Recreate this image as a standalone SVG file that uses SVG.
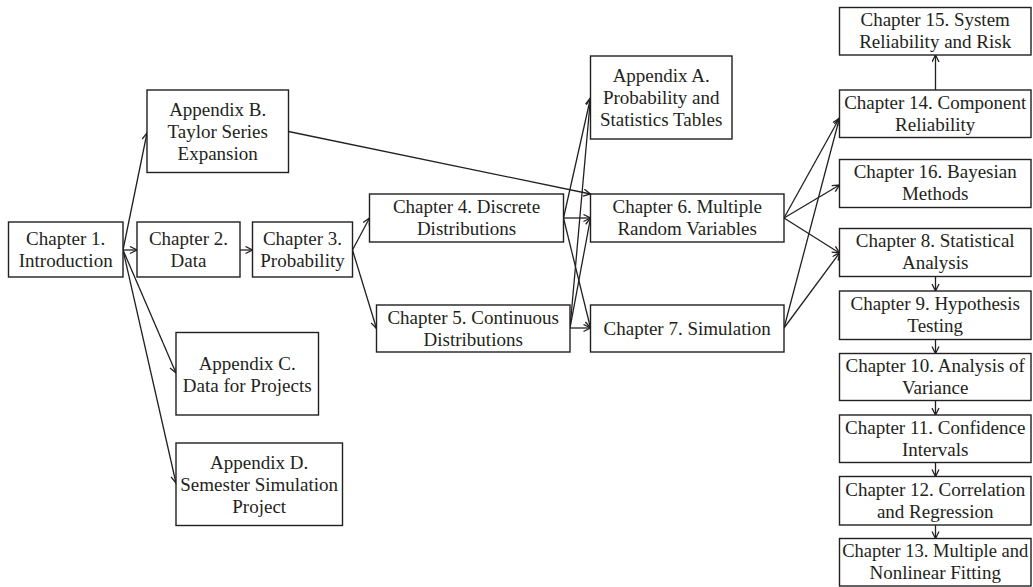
<svg xmlns="http://www.w3.org/2000/svg" width="1033" height="587" viewBox="0 0 1033 587">
<style>
.box{fill:#fff;stroke:#231f20;stroke-width:1.4}
.t{font-family:"Liberation Serif","Times New Roman",serif;font-size:19px;fill:#231f20;text-anchor:middle}
.c{fill:none;stroke:#231f20;stroke-width:1.3;marker-end:url(#ah)}
</style>
<defs>
<marker id="ah" markerUnits="userSpaceOnUse" markerWidth="12" markerHeight="12" refX="8" refY="4" orient="auto">
<path d="M1,0.5 L8,4 L1,7.5" fill="none" stroke="#231f20" stroke-width="1.3"/>
</marker>
</defs>
<rect width="1033" height="587" fill="#fff"/>
<g id="connectors">
<line class="c" x1="123" y1="250" x2="147" y2="133"/>
<line class="c" x1="123" y1="250" x2="137" y2="250"/>
<line class="c" x1="123" y1="250" x2="176" y2="373"/>
<line class="c" x1="123" y1="250" x2="176" y2="483"/>
<line class="c" x1="240" y1="250" x2="252.5" y2="250"/>
<line class="c" x1="352.5" y1="250" x2="369.5" y2="218"/>
<line class="c" x1="352.5" y1="250" x2="376.5" y2="328.5"/>
<line class="c" x1="288.5" y1="131.5" x2="590.5" y2="194"/>
<line class="c" x1="563.5" y1="218" x2="590.5" y2="98"/>
<line class="c" x1="563.5" y1="218" x2="590.5" y2="218"/>
<line class="c" x1="563.5" y1="218" x2="590.5" y2="328"/>
<line class="c" x1="570" y1="328" x2="590.5" y2="98"/>
<line class="c" x1="570" y1="328" x2="590.5" y2="218"/>
<line class="c" x1="570" y1="328" x2="590.5" y2="328"/>
<line class="c" x1="784" y1="218" x2="839.5" y2="118"/>
<line class="c" x1="784" y1="218" x2="839.5" y2="185"/>
<line class="c" x1="784" y1="218" x2="839.5" y2="253"/>
<line class="c" x1="784" y1="328" x2="839.5" y2="118"/>
<line class="c" x1="784" y1="328" x2="839.5" y2="253"/>
<line class="c" x1="935.5" y1="90" x2="935.5" y2="55"/>
<line class="c" x1="935.5" y1="276.5" x2="935.5" y2="291"/>
<line class="c" x1="935.5" y1="339.5" x2="935.5" y2="353.5"/>
<line class="c" x1="935.5" y1="400.5" x2="935.5" y2="415"/>
<line class="c" x1="935.5" y1="462.5" x2="935.5" y2="476.5"/>
<line class="c" x1="935.5" y1="525" x2="935.5" y2="538.5"/>
</g>
<g id="ch1"><rect class="box" x="8.5" y="222" width="114.5" height="55"/><text class="t" x="65.7" y="245">Chapter 1.</text><text class="t" x="65.7" y="267">Introduction</text></g>
<g id="ch2"><rect class="box" x="137" y="222" width="103" height="55"/><text class="t" x="188.5" y="245">Chapter 2.</text><text class="t" x="188.5" y="267">Data</text></g>
<g id="ch3"><rect class="box" x="252.5" y="222" width="100" height="55"/><text class="t" x="302.5" y="245">Chapter 3.</text><text class="t" x="302.5" y="267">Probability</text></g>
<g id="appB"><rect class="box" x="147" y="90" width="141.5" height="82.5"/><text class="t" x="217.7" y="116">Appendix B.</text><text class="t" x="217.7" y="138">Taylor Series</text><text class="t" x="217.7" y="160">Expansion</text></g>
<g id="appC"><rect class="box" x="176" y="332.5" width="142.5" height="82.5"/><text class="t" x="247.2" y="370">Appendix C.</text><text class="t" x="247.2" y="392">Data for Projects</text></g>
<g id="appD"><rect class="box" x="176" y="443" width="166.5" height="82.5"/><text class="t" x="259.2" y="469">Appendix D.</text><text class="t" x="259.2" y="491">Semester Simulation</text><text class="t" x="259.2" y="513">Project</text></g>
<g id="ch4"><rect class="box" x="369.5" y="194" width="194" height="48"/><text class="t" x="466.5" y="213">Chapter 4. Discrete</text><text class="t" x="466.5" y="235">Distributions</text></g>
<g id="ch5"><rect class="box" x="376.5" y="305" width="193.5" height="47"/><text class="t" x="473.2" y="323.5">Chapter 5. Continuous</text><text class="t" x="473.2" y="345.5">Distributions</text></g>
<g id="appA"><rect class="box" x="590.5" y="56" width="141.5" height="83"/><text class="t" x="661.2" y="82">Appendix A.</text><text class="t" x="661.2" y="104">Probability and</text><text class="t" x="661.2" y="126">Statistics Tables</text></g>
<g id="ch6"><rect class="box" x="590.5" y="194" width="193.5" height="48"/><text class="t" x="687.2" y="213">Chapter 6. Multiple</text><text class="t" x="687.2" y="235">Random Variables</text></g>
<g id="ch7"><rect class="box" x="590.5" y="305" width="193.5" height="47"/><text class="t" x="687.2" y="335">Chapter 7. Simulation</text></g>
<g id="ch15"><rect class="box" x="839.5" y="7.5" width="191.5" height="47.5"/><text class="t" x="935.2" y="26">Chapter 15. System</text><text class="t" x="935.2" y="48">Reliability and Risk</text></g>
<g id="ch14"><rect class="box" x="839.5" y="90" width="191.5" height="47.5"/><text class="t" x="935.2" y="108.5">Chapter 14. Component</text><text class="t" x="935.2" y="130.5">Reliability</text></g>
<g id="ch16"><rect class="box" x="839.5" y="159.5" width="191.5" height="48"/><text class="t" x="935.2" y="178">Chapter 16. Bayesian</text><text class="t" x="935.2" y="200">Methods</text></g>
<g id="ch8"><rect class="box" x="839.5" y="228.5" width="191.5" height="48"/><text class="t" x="935.2" y="247">Chapter 8. Statistical</text><text class="t" x="935.2" y="269">Analysis</text></g>
<g id="ch9"><rect class="box" x="839.5" y="291" width="191.5" height="48.5"/><text class="t" x="935.2" y="310">Chapter 9. Hypothesis</text><text class="t" x="935.2" y="332">Testing</text></g>
<g id="ch10"><rect class="box" x="839.5" y="353.5" width="191.5" height="47"/><text class="t" x="935.2" y="371.5">Chapter 10. Analysis of</text><text class="t" x="935.2" y="393.5">Variance</text></g>
<g id="ch11"><rect class="box" x="839.5" y="415" width="191.5" height="47.5"/><text class="t" x="935.2" y="433.5">Chapter 11. Confidence</text><text class="t" x="935.2" y="455.5">Intervals</text></g>
<g id="ch12"><rect class="box" x="839.5" y="476.5" width="191.5" height="48.5"/><text class="t" x="935.2" y="495.5">Chapter 12. Correlation</text><text class="t" x="935.2" y="517.5">and Regression</text></g>
<g id="ch13"><rect class="box" x="839.5" y="538.5" width="191.5" height="47.5"/><text class="t" x="935.2" y="557" style="font-size:18.5px">Chapter 13. Multiple and</text><text class="t" x="935.2" y="579">Nonlinear Fitting</text></g>
</svg>
